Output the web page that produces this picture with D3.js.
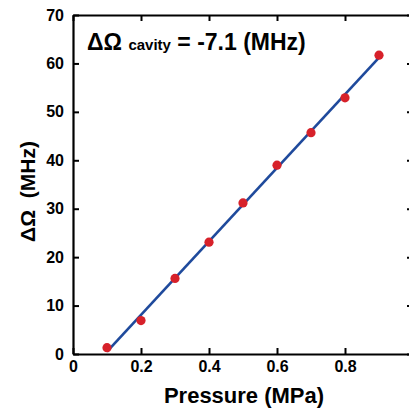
<!DOCTYPE html>
<html><head><meta charset="utf-8">
<script src="https://cdn.jsdelivr.net/npm/d3@7"></script>
<style>body{margin:0;background:#fff;overflow:hidden}svg{display:block}text{font-family:"Liberation Sans",Arial,sans-serif;font-weight:bold}</style>
</head><body><svg id="c" width="409" height="409"></svg>
<script>
const pressure = [0.1, 0.2, 0.3, 0.4, 0.5, 0.6, 0.7, 0.8, 0.9];
const deltaOmega = [1.3, 6.9, 15.6, 23.1, 31.2, 39.0, 45.7, 52.9, 61.7];
const fitX = [0.1, 0.9];
const fitY = [0.5, 61.2];
const xTicks = [0, 0.2, 0.4, 0.6, 0.8, 1];
const xTickLabels = ["0", "0.2", "0.4", "0.6", "0.8", "1"];
const yTicks = [0, 10, 20, 30, 40, 50, 60, 70];
const xTitle = "Pressure (MPa)";
const yTitle = "ΔΩ\u00a0\u00a0(MHz)";

const svg = d3.select("#c");
const L = 73, R = 413, T = 15, B = 354;
const x = d3.scaleLinear().domain([0, 1]).range([L, R]);
const y = d3.scaleLinear().domain([0, 70]).range([B, T]);

const tickFmt = (d, i) => xTickLabels[i];
const styleAxis = g => {
  g.selectAll("path.domain").attr("stroke", "#000").attr("stroke-width", 2.2);
  g.selectAll(".tick line").attr("stroke", "#000").attr("stroke-width", 2);
  g.selectAll("text").attr("font-size", 16).attr("fill", "#000")
    .style("font-family", '"Liberation Sans",Arial,sans-serif').style("font-weight", "bold");
};

// bottom
const gb = svg.append("g").attr("transform", `translate(0,${B})`)
  .call(d3.axisBottom(x).tickValues(xTicks).tickFormat(tickFmt).tickSizeInner(-6).tickSizeOuter(0).tickPadding(7));
styleAxis(gb);
// top
const gt = svg.append("g").attr("transform", `translate(0,${T})`)
  .call(d3.axisTop(x).tickValues(xTicks).tickFormat("").tickSizeInner(-6).tickSizeOuter(0));
styleAxis(gt);
// left
const gl = svg.append("g").attr("transform", `translate(${L},0)`)
  .call(d3.axisLeft(y).tickValues(yTicks).tickFormat(d3.format("d")).tickSizeInner(-6).tickSizeOuter(0).tickPadding(9));
styleAxis(gl);
// right
const gr = svg.append("g").attr("transform", `translate(${R},0)`)
  .call(d3.axisRight(y).tickValues(yTicks).tickFormat("").tickSizeInner(-6).tickSizeOuter(0));
styleAxis(gr);

// fit line
svg.append("path")
  .datum(fitX.map((v, i) => [v, fitY[i]]))
  .attr("fill", "none").attr("stroke", "#1f4a9c").attr("stroke-width", 2.6)
  .attr("d", d3.line().x(d => x(d[0])).y(d => y(d[1])));

// points
svg.append("g").selectAll("circle")
  .data(pressure.map((v, i) => [v, deltaOmega[i]]))
  .join("circle")
  .attr("cx", d => x(d[0])).attr("cy", d => y(d[1])).attr("r", 4.6)
  .attr("fill", "#d7212a");

// axis titles
svg.append("text").attr("x", 244).attr("y", 403).attr("text-anchor", "middle")
  .attr("font-size", 22).text(xTitle);
svg.append("text").attr("transform", `translate(35,191.5) rotate(-90)`).attr("text-anchor", "middle")
  .attr("font-size", 21).text(yTitle);

// annotation
const ann = svg.append("text").attr("x", 87).attr("y", 50).attr("font-size", 23);
ann.append("tspan").text("ΔΩ ");
ann.append("tspan").attr("font-size", 15).text("cavity");
ann.append("tspan").text(" = -7.1 (MHz)");
</script></body></html>
